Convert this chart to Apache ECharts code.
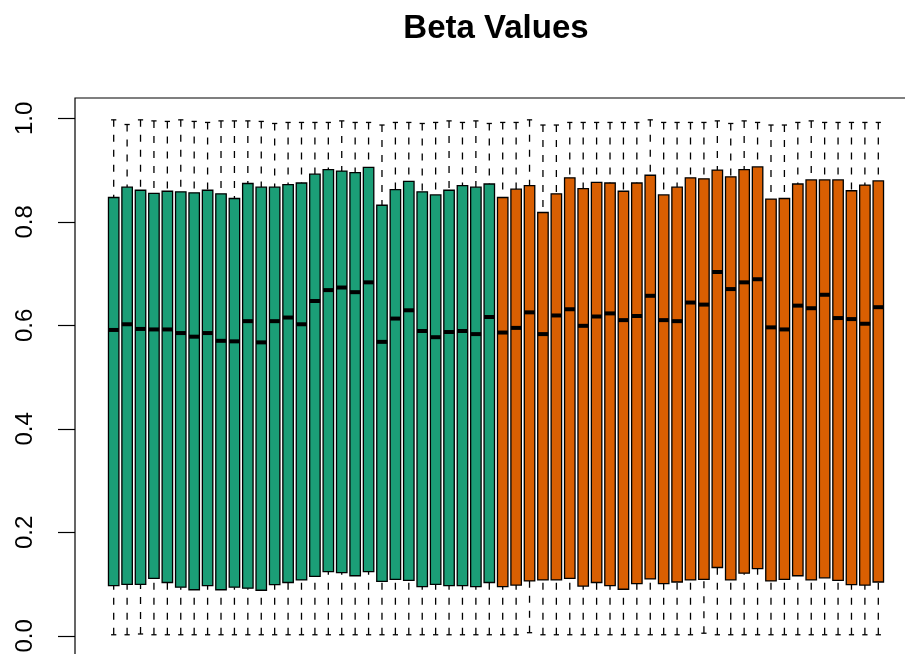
<!DOCTYPE html>
<html>
<head>
<meta charset="utf-8">
<script src="https://cdn.jsdelivr.net/npm/echarts@6/dist/echarts.min.js"></script>
<style>
  html, body { margin: 0; padding: 0; background: #fff; }
  #chart { width: 905px; height: 654px; }
</style>
</head>
<body>
<div id="chart"></div>
<script>
// one box per sample, first 29 in group 0 (green), last 29 in group 1 (orange)
const samples = Array.from({ length: 58 }, (_, i) => i + 1);
const groups = samples.map(s => (s <= 29 ? 0 : 1));

const mins = [
  0.002, 0.002, 0.0035, 0.002, 0.002, 0.002, 0.002, 0.002, 0.002, 0.002,
  0.002, 0.002, 0.002, 0.002, 0.002, 0.002, 0.002, 0.002, 0.002, 0.002,
  0.002, 0.002, 0.002, 0.002, 0.002, 0.002, 0.002, 0.002, 0.002, 0.002,
  0.002, 0.006, 0.002, 0.002, 0.002, 0.002, 0.002, 0.002, 0.002, 0.002,
  0.002, 0.002, 0.002, 0.002, 0.005, 0.002, 0.002, 0.002, 0.002, 0.002,
  0.002, 0.002, 0.002, 0.002, 0.002, 0.002, 0.002, 0.002
];
const q1s = [
  0.097, 0.0995, 0.0995, 0.111, 0.103, 0.094, 0.089, 0.097, 0.089, 0.094,
  0.092, 0.088, 0.099, 0.103, 0.108, 0.115, 0.124, 0.122, 0.116, 0.124,
  0.105, 0.109, 0.107, 0.095, 0.0995, 0.097, 0.097, 0.095, 0.103, 0.095,
  0.098, 0.106, 0.108, 0.108, 0.111, 0.096, 0.103, 0.097, 0.090, 0.101,
  0.110, 0.101, 0.104, 0.108, 0.109, 0.132, 0.108, 0.121, 0.130, 0.106,
  0.109, 0.116, 0.108, 0.112, 0.107, 0.099, 0.098, 0.104
];
const medians = [
  0.591, 0.602, 0.593, 0.592, 0.592, 0.585, 0.578, 0.585, 0.570, 0.569,
  0.608, 0.567, 0.608, 0.615, 0.602, 0.647, 0.668, 0.673, 0.664, 0.683,
  0.568, 0.613, 0.629, 0.589, 0.577, 0.587, 0.589, 0.583, 0.616, 0.586,
  0.595, 0.625, 0.583, 0.619, 0.631, 0.599, 0.617, 0.623, 0.610, 0.618,
  0.657, 0.610, 0.608, 0.644, 0.640, 0.703, 0.670, 0.683, 0.689, 0.596,
  0.592, 0.638, 0.633, 0.659, 0.614, 0.612, 0.603, 0.635
];
const q3s = [
  0.847, 0.867, 0.861, 0.855, 0.859, 0.858, 0.856, 0.861, 0.854, 0.845,
  0.874, 0.867, 0.867, 0.872, 0.875, 0.892, 0.901, 0.898, 0.895, 0.905,
  0.832, 0.862, 0.878, 0.858, 0.852, 0.861, 0.870, 0.867, 0.873, 0.847,
  0.863, 0.870, 0.818, 0.854, 0.885, 0.864, 0.876, 0.875, 0.859, 0.875,
  0.890, 0.852, 0.867, 0.885, 0.883, 0.900, 0.887, 0.901, 0.906, 0.844,
  0.845, 0.873, 0.881, 0.881, 0.881, 0.860, 0.871, 0.879
];
const maxs = [
  0.997, 0.988, 0.997, 0.995, 0.994, 0.997, 0.994, 0.992, 0.995, 0.995,
  0.995, 0.994, 0.990, 0.992, 0.992, 0.992, 0.992, 0.995, 0.992, 0.992,
  0.987, 0.992, 0.992, 0.990, 0.992, 0.995, 0.992, 0.995, 0.990, 0.992,
  0.992, 0.997, 0.987, 0.987, 0.992, 0.992, 0.992, 0.992, 0.992, 0.992,
  0.997, 0.992, 0.992, 0.992, 0.992, 0.995, 0.990, 0.995, 0.992, 0.987,
  0.987, 0.992, 0.995, 0.992, 0.992, 0.992, 0.992, 0.992
];
const yTicks = ['0.0', '0.2', '0.4', '0.6', '0.8', '1.0'];
const groupColors = ['#1B9E77', '#D95F02'];

const data = samples.map((s, i) => [s, mins[i], q1s[i], medians[i], q3s[i], maxs[i], groups[i]]);

function renderBox(params, api) {
  const x = api.value(0);
  const half = api.size([0.78, 0])[0] / 2;
  const staple = half / 2;
  const pMin = api.coord([x, api.value(1)]);
  const pQ1 = api.coord([x, api.value(2)]);
  const pMed = api.coord([x, api.value(3)]);
  const pQ3 = api.coord([x, api.value(4)]);
  const pMax = api.coord([x, api.value(5)]);
  const dashed = { stroke: '#000', lineWidth: 1.3, lineDash: [7, 8] };
  const solid = { stroke: '#000', lineWidth: 1.3 };
  return {
    type: 'group',
    children: [
      { type: 'line', shape: { x1: pMax[0], y1: pMax[1], x2: pQ3[0], y2: pQ3[1] }, style: dashed },
      { type: 'line', shape: { x1: pMin[0], y1: pMin[1], x2: pQ1[0], y2: pQ1[1] }, style: dashed },
      { type: 'line', shape: { x1: pMax[0] - staple, y1: pMax[1], x2: pMax[0] + staple, y2: pMax[1] }, style: solid },
      { type: 'line', shape: { x1: pMin[0] - staple, y1: pMin[1], x2: pMin[0] + staple, y2: pMin[1] }, style: solid },
      {
        type: 'rect',
        shape: { x: pQ3[0] - half, y: pQ3[1], width: half * 2, height: pQ1[1] - pQ3[1] },
        style: { fill: groupColors[api.value(6)], stroke: '#000', lineWidth: 1.3 }
      },
      { type: 'line', shape: { x1: pMed[0] - half, y1: pMed[1], x2: pMed[0] + half, y2: pMed[1] }, style: { stroke: '#000', lineWidth: 4 } }
    ]
  };
}

const chart = echarts.init(document.getElementById('chart'), null, { renderer: 'canvas' });
chart.setOption({
  backgroundColor: '#fff',
  animation: false,
  title: {
    text: 'Beta Values',
    left: 496,
    top: 12,
    padding: 0,
    textAlign: 'center',
    textStyle: { fontFamily: 'Liberation Sans', fontSize: 33, fontWeight: 'bold', color: '#000' }
  },
  grid: [
    // frame (R draws the box at the 4% extended range, cut off at right and bottom)
    {
      left: 75, top: 98, width: 842, height: 559, outerBoundsMode: 'none',
      show: true, borderColor: '#000', borderWidth: 1.2, backgroundColor: 'transparent'
    },
    // data area, 0..1
    { left: 75, top: 118.3, width: 842, height: 517.5, outerBoundsMode: 'none' }
  ],
  xAxis: [
    { gridIndex: 0, type: 'value', show: false },
    { gridIndex: 1, type: 'value', min: -1.885, max: 60.885, show: false }
  ],
  yAxis: [
    { gridIndex: 0, type: 'value', show: false },
    {
      gridIndex: 1,
      type: 'value',
      min: 0,
      max: 1,
      interval: 0.2,
      axisLine: { show: false, onZero: false },
      axisTick: { show: true, length: 17, lineStyle: { color: '#000', width: 1.2 } },
      splitLine: { show: false },
      axisLabel: {
        rotate: 90,
        margin: 38,
        fontSize: 24,
        fontFamily: 'Liberation Sans',
        color: '#000',
        formatter: v => yTicks[Math.round(v / 0.2)]
      }
    }
  ],
  series: [{
    type: 'custom',
    xAxisIndex: 1,
    yAxisIndex: 1,
    clip: false,
    renderItem: renderBox,
    encode: { x: 0, y: [1, 2, 3, 4, 5] },
    data
  }]
});
</script>
</body>
</html>
